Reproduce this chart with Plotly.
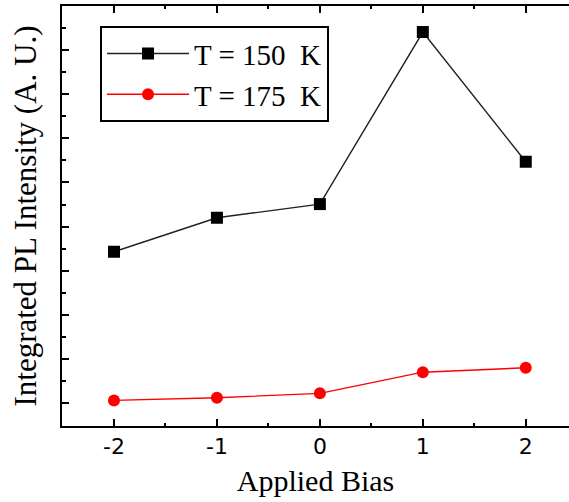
import plotly.graph_objects as go

# Applied bias (V)
bias = [-2, -1, 0, 1, 2]
# Integrated PL intensity, arbitrary units
pl_150K = [3.43, 4.20, 4.51, 8.41, 5.47]
pl_175K = [0.06, 0.12, 0.22, 0.70, 0.80]
series_names = ["T = 150  K", "T = 175  K"]
x_tick_vals = [-2, -1, 0, 1, 2]
x_tick_text = ["-2", "-1", "0", "1", "2"]

fig = go.Figure()
fig.add_trace(go.Scatter(
    x=bias, y=pl_150K, name=series_names[0], mode="lines+markers",
    line=dict(color="#222222", width=1.4),
    marker=dict(symbol="square", size=12, color="black"),
))
fig.add_trace(go.Scatter(
    x=bias, y=pl_175K, name=series_names[1], mode="lines+markers",
    line=dict(color="#ff0000", width=1.4),
    marker=dict(symbol="circle", size=12, color="#ff0000"),
))

fig.update_layout(
    width=569, height=502,
    margin=dict(l=62, r=0, t=6, b=76),
    paper_bgcolor="white", plot_bgcolor="white",
    showlegend=True,
    legend=dict(
        x=0.075, y=0.952, xanchor="left", yanchor="top",
        bgcolor="white", bordercolor="black", borderwidth=2,
        font=dict(family="Liberation Serif", size=29, color="black"),
        itemwidth=82,
    ),
    xaxis=dict(
        range=[-2.505, 2.42],
        tickvals=x_tick_vals, ticktext=x_tick_text,
        ticks="inside", ticklen=7, tickwidth=1.5, tickcolor="black",
        minor=dict(dtick=0.5, tick0=0, ticks="inside", ticklen=3, tickcolor="black", tickwidth=1.5),
        showline=True, linecolor="black", linewidth=2, mirror="ticks",
        showgrid=False, zeroline=False,
        tickfont=dict(family="DejaVu Sans", size=22, color="black"),
        title=dict(text="Applied Bias", standoff=12,
                   font=dict(family="Liberation Serif", size=30, color="black")),
    ),
    yaxis=dict(
        range=[-0.52, 9.0],
        dtick=1, tick0=0,
        ticks="inside", ticklen=7, tickwidth=1.5, tickcolor="black",
        minor=dict(dtick=0.5, tick0=0, ticks="inside", ticklen=4, tickcolor="black", tickwidth=1.5),
        showticklabels=False,
        showline=True, linecolor="black", linewidth=2, mirror=False,
        showgrid=False, zeroline=False,
        title=dict(text="Integrated PL Intensity (A. U.)", standoff=14,
                   font=dict(family="Liberation Serif", size=31, color="black")),
    ),
)

fig.write_html("out.html")
